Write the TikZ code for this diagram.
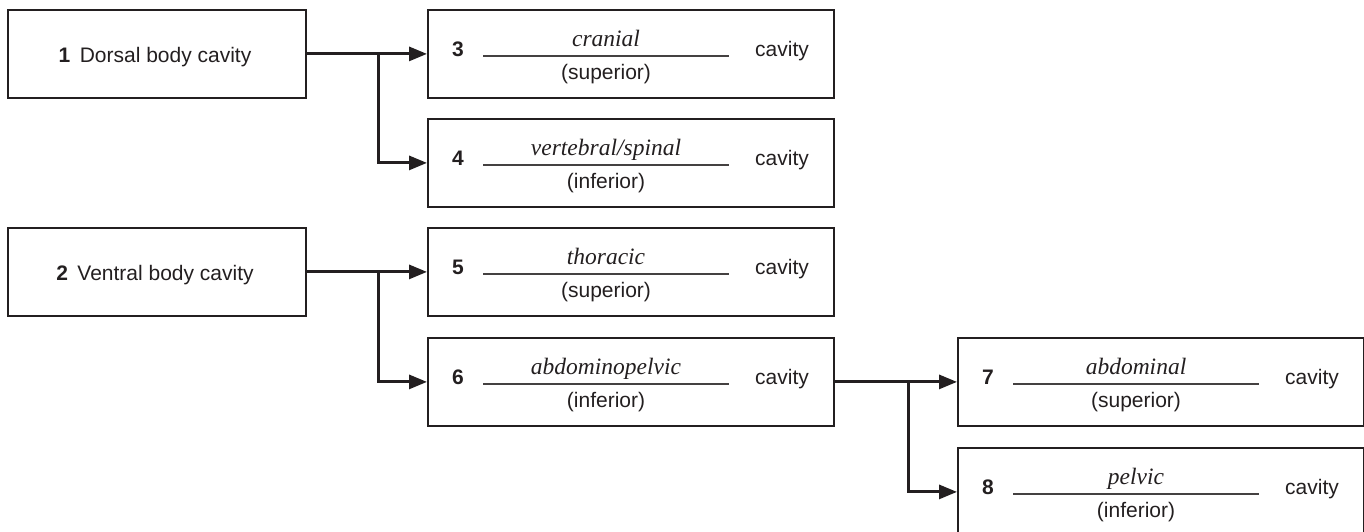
\documentclass[tikz,border=0pt]{standalone}
\usepackage{fontspec}
\setmainfont{Liberation Sans}
\newfontfamily\timesfont{Liberation Serif}
\usetikzlibrary{arrows.meta}
\definecolor{ink}{HTML}{231F20}
\tikzset{
  cbox/.style={draw=ink, line width=1.8pt, minimum width=406pt, minimum height=88pt, inner sep=0pt},
  mainbox/.style={draw=ink, line width=1.8pt, minimum width=298pt, minimum height=88pt, inner sep=0pt},
  lbl/.style={text=ink, inner sep=0pt, font=\fontsize{21}{25}\selectfont},
  wordlbl/.style={text=ink, inner sep=0pt, font=\fontsize{23.5}{28}\selectfont\timesfont\itshape},
  uline/.style={draw=ink!85, line width=1.3pt},
  arr/.style={draw=ink, line width=3pt, -{Triangle[length=18pt,width=14pt]}},
}
\newcommand\cavbox[6]{%
  \node[cbox, anchor=north west] (#1) at (#2,#3) {};
  \node[lbl, anchor=base] (#1-n) at ([shift={(31,47)}]#1.north west) {\textbf{#4}};
  \draw[uline] ([shift={(56,47)}]#1.north west) coordinate (#1-l) -- ([shift={(302,47)}]#1.north west) coordinate (#1-r);
  \node[wordlbl, anchor=base] (#1-w) at ([shift={(179,37)}]#1.north west) {#5};
  \node[lbl, anchor=base] (#1-p) at ([shift={(179,70)}]#1.north west) {(#6)};
  \node[lbl, anchor=base] (#1-c) at ([shift={(355,47)}]#1.north west) {cavity};
}
\begin{document}
\begin{tikzpicture}[x=1pt,y=-1pt]
\useasboundingbox (0,0) rectangle (1364,531);
% left boxes
\node[mainbox, anchor=north west] (b1) at (7,9) {};
\node[lbl, anchor=base] (b1-t) at ([shift={(148,53)}]b1.north west) {\textbf{1}\hspace{0.45em}Dorsal body cavity};
\node[mainbox, anchor=north west] (b2) at (7,227) {};
\node[lbl, anchor=base] (b2-t) at ([shift={(148,53)}]b2.north west) {\textbf{2}\hspace{0.45em}Ventral body cavity};
% cavity boxes
\cavbox{b3}{427}{9}{3}{cranial}{superior}
\cavbox{b4}{427}{118}{4}{vertebral/spinal}{inferior}
\cavbox{b5}{427}{227}{5}{thoracic}{superior}
\cavbox{b6}{427}{337}{6}{abdominopelvic}{inferior}
\cavbox{b7}{957}{337}{7}{abdominal}{superior}
\cavbox{b8}{957}{447}{8}{pelvic}{inferior}
% connectors
\coordinate (j1) at ([xshift=72pt]b1.east);
\coordinate (j2) at ([xshift=72pt]b2.east);
\coordinate (j3) at ([xshift=74pt]b6.east);
\draw[arr] (b1.east) -- (b3.west);
\draw[arr] (j1) |- (b4.west);
\draw[arr] (b2.east) -- (b5.west);
\draw[arr] (j2) |- (b6.west);
\draw[arr] (b6.east) -- (b7.west);
\draw[arr] (j3) |- (b8.west);
\end{tikzpicture}
\end{document}
